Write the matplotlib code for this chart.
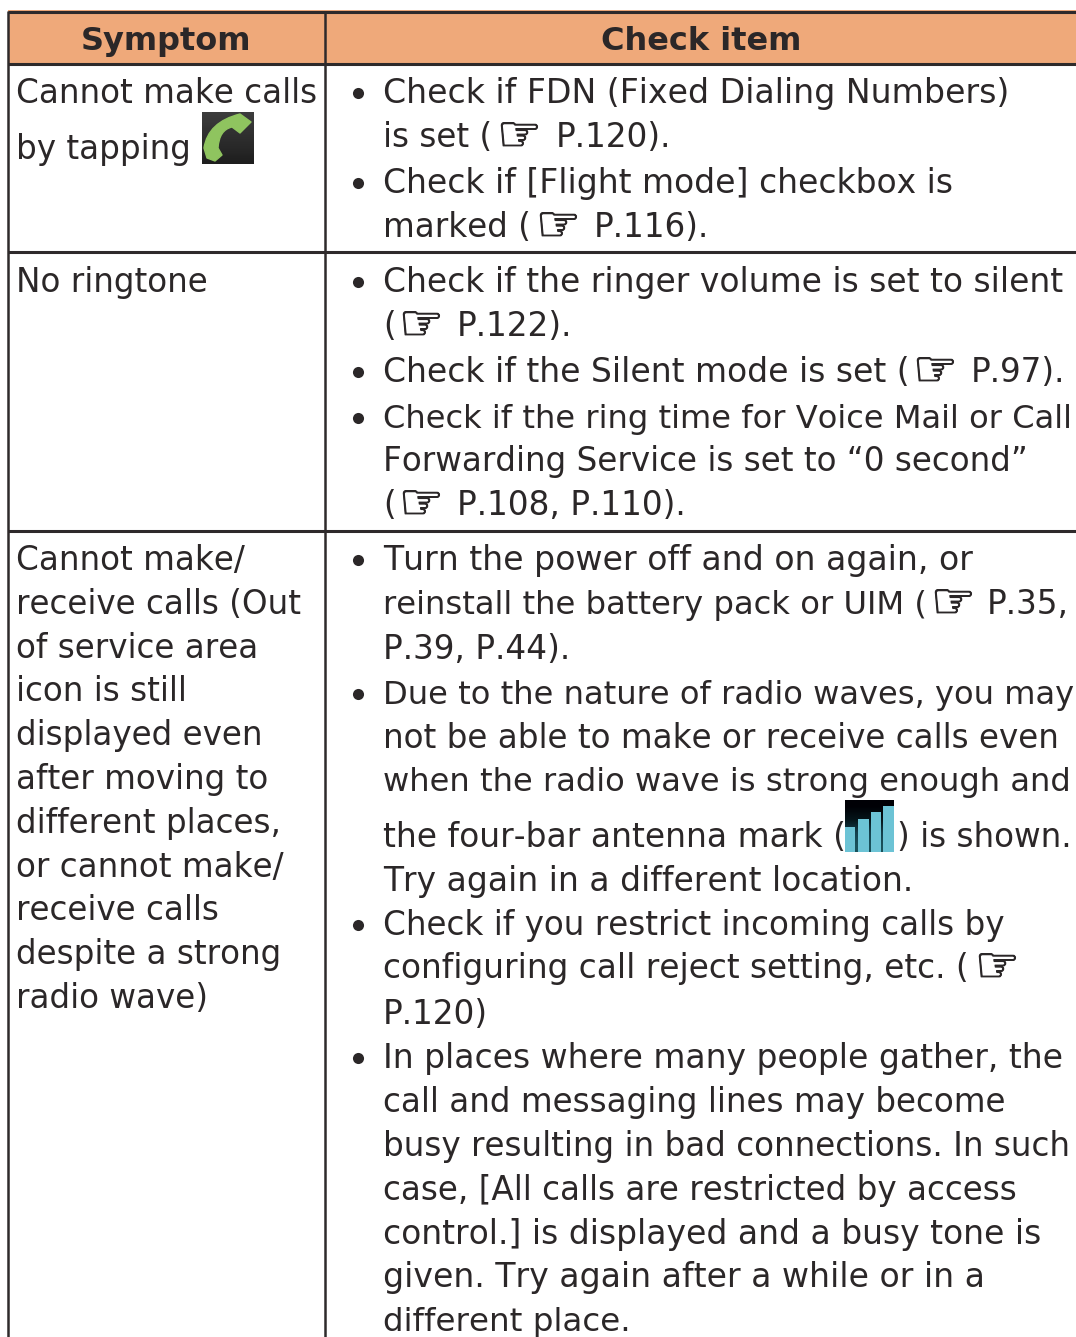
"""Troubleshooting table page
"""
import matplotlib
matplotlib.use("Agg")
import matplotlib.pyplot as plt
import matplotlib.patheffects as pe
import numpy as np
from matplotlib.patches import Rectangle, PathPatch
from matplotlib.path import Path

W = 1076
H = 1337
TEXT = "#2b2728"
LINE = "#2e2a2b"
HEAD = "#efa97a"
FS = 23.5
HAND_FS = 36

plt.rcParams["font.family"] = ["DejaVu Sans"]
plt.rcParams["text.kerning_factor"] = 6

headers = ["Symptom", "Check item"]
symptom_lines = ["Cannot make calls", "by tapping", "No ringtone", "Cannot make/", "receive calls (Out",
	"of service area", "icon is still", "displayed even", "after moving to", "different places,",
	"or cannot make/", "receive calls", "despite a strong", "radio wave)"]
symptom_y = [103, 159, 292, 570, 614, 658, 701, 745, 789, 833, 877, 920, 964, 1008]
check_lines = ["Check if FDN (Fixed Dialing Numbers)", "is set (",
	"Check if [Flight mode] checkbox is", "marked (",
	"Check if the ringer volume is set to silent", "(",
	"Check if the Silent mode is set (",
	"Check if the ring time for Voice Mail or Call", "Forwarding Service is set to “0 second”", "(",
	"Turn the power off and on again, or", "reinstall the battery pack or UIM (", "P.39, P.44).",
	"Due to the nature of radio waves, you may", "not be able to make or receive calls even",
	"when the radio wave is strong enough and", "the four-bar antenna mark (", "Try again in a different location.",
	"Check if you restrict incoming calls by", "configuring call reject setting, etc. (", "P.120)",
	"In places where many people gather, the", "call and messaging lines may become",
	"busy resulting in bad connections. In such", "case, [All calls are restricted by access",
	"control.] is displayed and a busy tone is", "given. Try again after a while or in a", "different place."]
check_y = [103, 147, 193, 237, 292, 336, 382, 428, 471, 515, 570, 614, 659, 704, 748, 791, 847, 891,
	935, 978, 1024, 1068, 1112, 1156, 1200, 1244, 1287, 1331]
# the original font is a little wider or narrower than DejaVu depending on the line
check_fs = {0: 23.85, 2: 23.8, 4: 23.7, 6: 23.8, 7: 23.1, 10: 23.85, 11: 23.2, 13: 23.1, 15: 23.15, 16: 23.65, 17: 23.7,
	19: 23.6, 21: 23.8, 25: 23.75, 26: 23.85, 27: 23.4}
bullet_lines = [0, 2, 4, 6, 7, 10, 13, 18, 21]
# hand sign references: line index, sign x, text after it, x of that text
hand_lines = [1, 3, 5, 6, 9, 11, 19]
hand_x = [497, 536, 399, 913, 399, 931, 975]
hand_tail = ["P.120).", "P.116).", "P.122).", "P.97).", "P.108, P.110).", "P.35,", ""]
tail_x = [556, 594, 457, 971, 457, 987, 0]
row_lines = [12, 64, 252, 531]
col_lines = [8, 325]
signal_x = [850, 863.5, 876, 888.5]
signal_top = [827, 819, 812, 806]

fig = plt.figure(figsize=(W/100, H/100), dpi=100)
ax = fig.add_axes([0, 0, 1, 1])
ax.set_xlim(0, W)
ax.set_ylim(H, 0)
ax.axis("off")

# header band
ax.add_patch(Rectangle((8, 10), W-8, 54, fc=HEAD, ec="none", zorder=1))
for y in row_lines:
	ax.plot([8, W], [y, y], color=LINE, lw=2.2, zorder=3, solid_capstyle="butt")
for x in col_lines:
	ax.plot([x, x], [11, H], color=LINE, lw=1.8, zorder=3, solid_capstyle="butt")
ax.text(166, 50, headers[0], fontsize=23, fontweight="bold", ha="center", va="baseline", color=TEXT)
ax.text(701, 50, headers[1], fontsize=23, fontweight="bold", ha="center", va="baseline", color=TEXT)

for s, y in zip(symptom_lines, symptom_y):
	ax.text(16, y, s, fontsize=FS, va="baseline", color=TEXT)
for i, (s, y) in enumerate(zip(check_lines, check_y)):
	ax.text(383, y, s, fontsize=check_fs.get(i, FS), va="baseline", color=TEXT)
for i, x, s, tx in zip(hand_lines, hand_x, hand_tail, tail_x):
	ax.text(x, check_y[i]+4, "☞", fontsize=HAND_FS, va="baseline", color=TEXT,
		path_effects=[pe.withStroke(linewidth=0.8, foreground=TEXT)])
	if s:
		ax.text(tx, check_y[i], s, fontsize=FS, va="baseline", color=TEXT)
ax.text(897, check_y[16], ") is shown.", fontsize=FS, va="baseline", color=TEXT)
for i in bullet_lines:
	ax.plot([358], [check_y[i]-10], "o", ms=8, color=TEXT, mec="none")

# phone icon
grad = np.linspace(0.24, 0.12, 30).reshape(-1, 1)
ax.imshow(grad, cmap="gray", vmin=0, vmax=1, extent=(202, 254, 164, 112), aspect="auto", zorder=2)
handset = Path([(204, 148), (208, 122), (240, 114), (251, 122), (240, 133), (232, 127), (219, 130), (218, 148),
	(222, 155), (215, 161), (207, 158), (204, 148)],
	[Path.MOVETO, Path.CURVE3, Path.CURVE3, Path.LINETO, Path.LINETO, Path.LINETO, Path.CURVE3, Path.CURVE3,
	Path.LINETO, Path.LINETO, Path.LINETO, Path.CLOSEPOLY])
ax.add_patch(PathPatch(handset, fc="#8fc45f", ec="#8fc45f", lw=1, joinstyle="round", zorder=3))

# antenna icon
bg = np.array([[[0.0, 0.0, 0.02]], [[0.02, 0.08, 0.1]], [[0.08, 0.25, 0.3]], [[0.1, 0.32, 0.36]]])
ax.imshow(bg, extent=(845, 894, 852, 800), aspect="auto", zorder=2, interpolation="bilinear")
for x, top in zip(signal_x, signal_top):
	ax.bar(x, 852-top, width=10.5, bottom=top, color="#6cc3d5", zorder=3)
ax.set_xlim(0, W)
ax.set_ylim(H, 0)

fig.savefig("out.png", dpi=100, facecolor="white")
